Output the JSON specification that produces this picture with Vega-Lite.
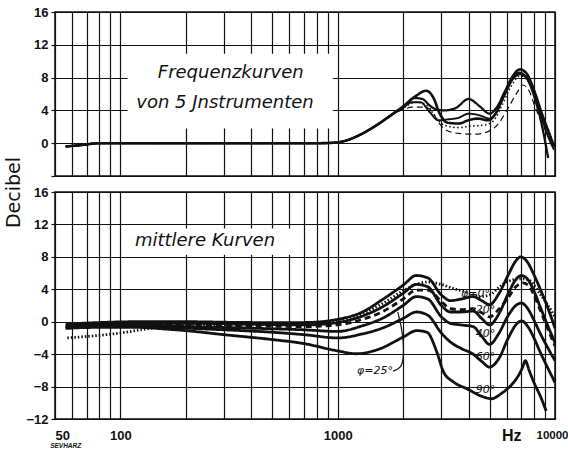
{
 "$schema": "https://vega.github.io/schema/vega-lite/v6.json",
 "background": "white",
 "padding": {"left": 4, "top": 5, "right": 2, "bottom": 2},
 "spacing": 16,
 "bounds": "flush",
 "resolve": {"scale": {"strokeDash": "independent", "strokeWidth": "independent"}},
 "config": {
  "view": {"stroke": "#111", "strokeWidth": 1.5},
  "axis": {"gridColor": "#111", "gridOpacity": 1, "gridWidth": 1.2, "domain": false, "labelFont": "Liberation Sans", "labelFontWeight": "bold", "labelFontSize": 13, "labelColor": "#111", "tickColor": "#111", "tickWidth": 1.2, "titleColor": "#111"}
 },
 "datasets": {
  "top": [
   {"s":"A","f":56,"db":-0.4},{"s":"A","f":65,"db":-0.25},{"s":"A","f":80,"db":0},{"s":"A","f":120,"db":0},{"s":"A","f":250,"db":0},{"s":"A","f":500,"db":0},{"s":"A","f":800,"db":0},{"s":"A","f":950,"db":0.05},{"s":"A","f":1100,"db":0.35},{"s":"A","f":1260,"db":1.0},{"s":"A","f":1510,"db":2.2},{"s":"A","f":1800,"db":3.6},
   {"s":"A","f":2000,"db":4.5},{"s":"A","f":2300,"db":5.8},{"s":"A","f":2550,"db":6.4},{"s":"A","f":2750,"db":5.6},{"s":"A","f":2950,"db":3.6},{"s":"A","f":3200,"db":2.5},{"s":"A","f":3600,"db":2.4},{"s":"A","f":4000,"db":2.8},{"s":"A","f":4400,"db":3.0},{"s":"A","f":4900,"db":2.8},{"s":"A","f":5300,"db":3.5},{"s":"A","f":5800,"db":5.8},{"s":"A","f":6400,"db":8.2},{"s":"A","f":6900,"db":9.0},{"s":"A","f":7400,"db":8.5},{"s":"A","f":8000,"db":6.5},{"s":"A","f":8700,"db":3.6},{"s":"A","f":9400,"db":1.2},{"s":"A","f":9900,"db":-0.4},
   {"s":"B","f":56,"db":-0.4},{"s":"B","f":65,"db":-0.25},{"s":"B","f":80,"db":0},{"s":"B","f":120,"db":0},{"s":"B","f":250,"db":0},{"s":"B","f":500,"db":0},{"s":"B","f":800,"db":0},{"s":"B","f":950,"db":0.05},{"s":"B","f":1100,"db":0.35},{"s":"B","f":1260,"db":1.0},{"s":"B","f":1510,"db":2.2},{"s":"B","f":1800,"db":3.6},
   {"s":"B","f":2000,"db":4.4},{"s":"B","f":2250,"db":5.5},{"s":"B","f":2450,"db":5.4},{"s":"B","f":2650,"db":4.6},{"s":"B","f":2850,"db":4.1},{"s":"B","f":3100,"db":4.0},{"s":"B","f":3500,"db":4.3},{"s":"B","f":4000,"db":5.4},{"s":"B","f":4500,"db":4.5},{"s":"B","f":5000,"db":3.6},{"s":"B","f":5400,"db":4.4},{"s":"B","f":5900,"db":6.4},{"s":"B","f":6400,"db":8.0},{"s":"B","f":6850,"db":8.6},{"s":"B","f":7400,"db":8.0},{"s":"B","f":8000,"db":5.8},{"s":"B","f":8600,"db":2.8},{"s":"B","f":9300,"db":-1.8},
   {"s":"C","f":56,"db":-0.4},{"s":"C","f":65,"db":-0.25},{"s":"C","f":80,"db":0},{"s":"C","f":120,"db":0},{"s":"C","f":250,"db":0},{"s":"C","f":500,"db":0},{"s":"C","f":800,"db":0},{"s":"C","f":950,"db":0.05},{"s":"C","f":1100,"db":0.35},{"s":"C","f":1260,"db":1.0},{"s":"C","f":1510,"db":2.2},{"s":"C","f":1800,"db":3.6},
   {"s":"C","f":2000,"db":4.3},{"s":"C","f":2200,"db":5.0},{"s":"C","f":2400,"db":5.0},{"s":"C","f":2650,"db":3.8},{"s":"C","f":2900,"db":2.8},{"s":"C","f":3200,"db":2.9},{"s":"C","f":3600,"db":3.1},{"s":"C","f":4000,"db":3.6},{"s":"C","f":4500,"db":3.4},{"s":"C","f":5000,"db":3.0},{"s":"C","f":5400,"db":3.9},{"s":"C","f":5900,"db":6.0},{"s":"C","f":6400,"db":7.8},{"s":"C","f":6900,"db":8.4},{"s":"C","f":7400,"db":7.9},{"s":"C","f":8000,"db":6.0},{"s":"C","f":8700,"db":3.0},{"s":"C","f":9400,"db":0.5},{"s":"C","f":9900,"db":-0.8},
   {"s":"D","f":56,"db":-0.4},{"s":"D","f":65,"db":-0.25},{"s":"D","f":80,"db":0},{"s":"D","f":120,"db":0},{"s":"D","f":250,"db":0},{"s":"D","f":500,"db":0},{"s":"D","f":800,"db":0},{"s":"D","f":950,"db":0.05},{"s":"D","f":1100,"db":0.35},{"s":"D","f":1260,"db":1.0},{"s":"D","f":1510,"db":2.2},{"s":"D","f":1800,"db":3.6},
   {"s":"D","f":2000,"db":4.3},{"s":"D","f":2300,"db":5.0},{"s":"D","f":2600,"db":4.5},{"s":"D","f":2850,"db":3.0},{"s":"D","f":3100,"db":2.2},{"s":"D","f":3600,"db":1.9},{"s":"D","f":4200,"db":2.1},{"s":"D","f":4700,"db":2.2},{"s":"D","f":5200,"db":2.7},{"s":"D","f":5700,"db":4.6},{"s":"D","f":6300,"db":7.0},{"s":"D","f":6900,"db":8.2},{"s":"D","f":7500,"db":7.6},{"s":"D","f":8200,"db":5.4},{"s":"D","f":9000,"db":2.6},{"s":"D","f":9900,"db":-0.2},
   {"s":"E","f":56,"db":-0.4},{"s":"E","f":65,"db":-0.25},{"s":"E","f":80,"db":0},{"s":"E","f":120,"db":0},{"s":"E","f":250,"db":0},{"s":"E","f":500,"db":0},{"s":"E","f":800,"db":0},{"s":"E","f":950,"db":0.05},{"s":"E","f":1100,"db":0.35},{"s":"E","f":1260,"db":1.0},{"s":"E","f":1510,"db":2.2},{"s":"E","f":1800,"db":3.6},
   {"s":"E","f":2000,"db":4.1},{"s":"E","f":2200,"db":4.4},{"s":"E","f":2500,"db":4.4},{"s":"E","f":2700,"db":4.0},{"s":"E","f":2900,"db":2.6},{"s":"E","f":3150,"db":1.6},{"s":"E","f":3600,"db":1.2},{"s":"E","f":4300,"db":1.1},{"s":"E","f":5000,"db":1.5},{"s":"E","f":5500,"db":2.4},{"s":"E","f":6000,"db":4.0},{"s":"E","f":6700,"db":6.2},{"s":"E","f":7100,"db":7.1},{"s":"E","f":7600,"db":6.4},{"s":"E","f":8000,"db":4.8},{"s":"E","f":8600,"db":2.8},{"s":"E","f":9250,"db":1.0},{"s":"E","f":9900,"db":-0.45}
  ],
  "bottom": [
   {"s":"p0","f":56,"db":-0.3},{"s":"p0","f":80,"db":-0.1},{"s":"p0","f":120,"db":0},{"s":"p0","f":200,"db":0},{"s":"p0","f":400,"db":-0.1},{"s":"p0","f":700,"db":-0.1},{"s":"p0","f":1000,"db":0.3},{"s":"p0","f":1300,"db":1.2},{"s":"p0","f":1600,"db":2.7},{"s":"p0","f":2000,"db":4.5},{"s":"p0","f":2300,"db":5.7},{"s":"p0","f":2600,"db":5.4},{"s":"p0","f":3000,"db":3.3},{"s":"p0","f":3300,"db":2.6},{"s":"p0","f":3700,"db":2.8},{"s":"p0","f":4200,"db":3.1},{"s":"p0","f":4600,"db":2.6},{"s":"p0","f":5000,"db":2.1},{"s":"p0","f":5500,"db":3.4},{"s":"p0","f":6100,"db":5.8},{"s":"p0","f":6600,"db":7.5},{"s":"p0","f":6950,"db":8.0},{"s":"p0","f":7400,"db":7.5},{"s":"p0","f":8000,"db":5.8},{"s":"p0","f":8500,"db":4.2},{"s":"p0","f":9300,"db":1.6},{"s":"p0","f":10000,"db":-0.8},
   {"s":"p20","f":56,"db":-0.5},{"s":"p20","f":80,"db":-0.3},{"s":"p20","f":120,"db":-0.2},{"s":"p20","f":200,"db":-0.2},{"s":"p20","f":400,"db":-0.3},{"s":"p20","f":700,"db":-0.4},{"s":"p20","f":1000,"db":-0.1},{"s":"p20","f":1300,"db":0.7},{"s":"p20","f":1600,"db":1.8},{"s":"p20","f":2000,"db":3.5},{"s":"p20","f":2300,"db":4.6},{"s":"p20","f":2600,"db":4.3},{"s":"p20","f":3000,"db":2.0},{"s":"p20","f":3300,"db":1.2},{"s":"p20","f":3700,"db":1.2},{"s":"p20","f":4200,"db":1.3},{"s":"p20","f":4600,"db":0.4},{"s":"p20","f":5000,"db":-0.4},{"s":"p20","f":5500,"db":0.9},{"s":"p20","f":6100,"db":3.5},{"s":"p20","f":6600,"db":5.2},{"s":"p20","f":7000,"db":5.7},{"s":"p20","f":7500,"db":5.2},{"s":"p20","f":8000,"db":3.8},{"s":"p20","f":8500,"db":2.0},{"s":"p20","f":9300,"db":-0.6},{"s":"p20","f":10000,"db":-2.6},
   {"s":"p25","f":56,"db":-0.6},{"s":"p25","f":80,"db":-0.4},{"s":"p25","f":120,"db":-0.3},{"s":"p25","f":200,"db":-0.4},{"s":"p25","f":400,"db":-0.5},{"s":"p25","f":700,"db":-0.6},{"s":"p25","f":1000,"db":-0.4},{"s":"p25","f":1300,"db":0.3},{"s":"p25","f":1600,"db":1.2},{"s":"p25","f":2000,"db":2.8},{"s":"p25","f":2300,"db":3.9},{"s":"p25","f":2600,"db":3.9},{"s":"p25","f":3000,"db":2.5},{"s":"p25","f":3300,"db":1.6},{"s":"p25","f":3700,"db":1.5},{"s":"p25","f":4200,"db":1.6},{"s":"p25","f":4600,"db":1.1},{"s":"p25","f":5000,"db":0.6},{"s":"p25","f":5500,"db":1.5},{"s":"p25","f":6100,"db":3.0},{"s":"p25","f":6600,"db":4.3},{"s":"p25","f":7100,"db":4.8},{"s":"p25","f":7600,"db":4.4},{"s":"p25","f":8000,"db":3.3},{"s":"p25","f":8500,"db":1.6},{"s":"p25","f":9300,"db":-1.0},{"s":"p25","f":10000,"db":-3.0},
   {"s":"p40","f":56,"db":-0.7},{"s":"p40","f":80,"db":-0.5},{"s":"p40","f":120,"db":-0.4},{"s":"p40","f":200,"db":-0.6},{"s":"p40","f":400,"db":-0.8},{"s":"p40","f":700,"db":-1.0},{"s":"p40","f":1000,"db":-1.2},{"s":"p40","f":1300,"db":-0.5},{"s":"p40","f":1600,"db":0.4},{"s":"p40","f":2000,"db":2.0},{"s":"p40","f":2300,"db":3.1},{"s":"p40","f":2600,"db":2.8},{"s":"p40","f":3000,"db":0.6},{"s":"p40","f":3300,"db":-0.2},{"s":"p40","f":3700,"db":-0.4},{"s":"p40","f":4200,"db":-0.6},{"s":"p40","f":4600,"db":-1.8},{"s":"p40","f":5000,"db":-2.8},{"s":"p40","f":5500,"db":-1.5},{"s":"p40","f":6100,"db":0.8},{"s":"p40","f":6600,"db":2.0},{"s":"p40","f":7000,"db":2.3},{"s":"p40","f":7500,"db":1.6},{"s":"p40","f":8000,"db":0.2},{"s":"p40","f":8500,"db":-1.3},{"s":"p40","f":9300,"db":-3.3},{"s":"p40","f":10000,"db":-4.8},
   {"s":"p60","f":56,"db":-0.8},{"s":"p60","f":80,"db":-0.6},{"s":"p60","f":120,"db":-0.6},{"s":"p60","f":200,"db":-0.8},{"s":"p60","f":300,"db":-1.0},{"s":"p60","f":500,"db":-1.3},{"s":"p60","f":700,"db":-1.6},{"s":"p60","f":1000,"db":-2.0},{"s":"p60","f":1300,"db":-1.5},{"s":"p60","f":1600,"db":-0.8},{"s":"p60","f":2000,"db":0.4},{"s":"p60","f":2300,"db":1.2},{"s":"p60","f":2600,"db":0.8},{"s":"p60","f":3000,"db":-1.4},{"s":"p60","f":3300,"db":-2.5},{"s":"p60","f":3700,"db":-3.3},{"s":"p60","f":4200,"db":-4.0},{"s":"p60","f":4600,"db":-4.9},{"s":"p60","f":5000,"db":-5.6},{"s":"p60","f":5500,"db":-4.6},{"s":"p60","f":6100,"db":-2.0},{"s":"p60","f":6600,"db":-0.4},{"s":"p60","f":7000,"db":0.1},{"s":"p60","f":7500,"db":-0.6},{"s":"p60","f":8000,"db":-2.0},{"s":"p60","f":8500,"db":-3.6},{"s":"p60","f":9300,"db":-5.8},{"s":"p60","f":10000,"db":-7.5},
   {"s":"p90","f":56,"db":-0.8},{"s":"p90","f":80,"db":-0.7},{"s":"p90","f":120,"db":-0.7},{"s":"p90","f":160,"db":-0.9},{"s":"p90","f":200,"db":-1.1},{"s":"p90","f":300,"db":-1.6},{"s":"p90","f":500,"db":-2.2},{"s":"p90","f":700,"db":-2.7},{"s":"p90","f":1000,"db":-3.6},{"s":"p90","f":1220,"db":-3.95},{"s":"p90","f":1560,"db":-3.35},{"s":"p90","f":2000,"db":-1.9},{"s":"p90","f":2310,"db":-1.1},{"s":"p90","f":2575,"db":-1.3},{"s":"p90","f":2860,"db":-3.75},{"s":"p90","f":3070,"db":-6.2},{"s":"p90","f":3420,"db":-7.45},{"s":"p90","f":3950,"db":-8.3},{"s":"p90","f":4600,"db":-9.2},{"s":"p90","f":5100,"db":-9.5},{"s":"p90","f":5700,"db":-8.8},{"s":"p90","f":6300,"db":-7.8},{"s":"p90","f":6800,"db":-6.6},{"s":"p90","f":7100,"db":-5.6},{"s":"p90","f":7300,"db":-4.8},{"s":"p90","f":7600,"db":-6.0},{"s":"p90","f":8000,"db":-7.5},{"s":"p90","f":8600,"db":-9.3},{"s":"p90","f":9100,"db":-11.0},
   {"s":"dot","f":57,"db":-2.0},{"s":"dot","f":93,"db":-1.5},{"s":"dot","f":154,"db":-0.66},{"s":"dot","f":250,"db":-0.4},{"s":"dot","f":500,"db":-0.3},{"s":"dot","f":800,"db":-0.2},{"s":"dot","f":1000,"db":0.1},{"s":"dot","f":1300,"db":1.0},{"s":"dot","f":1600,"db":2.2},{"s":"dot","f":2000,"db":3.8},{"s":"dot","f":2300,"db":4.6},{"s":"dot","f":2600,"db":4.9},{"s":"dot","f":3000,"db":4.6},{"s":"dot","f":3400,"db":4.1},{"s":"dot","f":4000,"db":3.6},{"s":"dot","f":4500,"db":3.1},{"s":"dot","f":5000,"db":3.3},{"s":"dot","f":5500,"db":4.2},{"s":"dot","f":6000,"db":4.9},{"s":"dot","f":7000,"db":5.3},{"s":"dot","f":7500,"db":5.2},{"s":"dot","f":8500,"db":3.5},{"s":"dot","f":9300,"db":2.0},{"s":"dot","f":10000,"db":0.6}
  ],
  "boxTop": [{"f":108,"f2":950,"db":1.8,"db2":10.9}],
  "boxBottom": [{"f":109,"f2":640,"db":8.25,"db2":11.5}],
  "titleTop": [{"f":322,"db":8.6,"t":"Frequenzkurven"},{"f":303,"db":4.85,"t":"von 5 Jnstrumenten"}],
  "titleBottom": [{"f":245,"db":9.9,"t":"mittlere Kurven"}],
  "angles": [{"f":4310,"db":3.46,"t":"φ=0°"},{"f":4790,"db":1.48,"t":"20°"},{"f":4790,"db":-1.48,"t":"40°"},{"f":4790,"db":-4.33,"t":"60°"},{"f":4790,"db":-8.4,"t":"90°"},{"f":1483,"db":-6.06,"t":"φ=25°"}],
  "leader": [{"o":1,"f":1800,"db":-6.1},{"o":2,"f":1960,"db":-5.7},{"o":3,"f":2010,"db":-4.5},{"o":4,"f":2010,"db":-2.5},{"o":5,"f":1960,"db":-0.5},{"o":6,"f":1890,"db":1.2}],
  "hz": [{"f":6320,"db":-14.1,"t":"Hz"}],
  "stamp": [{"f":56,"db":-15.3,"t":"SEVHARZ"}]
 },
 "vconcat": [
  {
   "width": 500, "height": 164,
   "encoding": {
    "x": {"field": "f", "type": "quantitative", "scale": {"type": "log", "domain": [50, 10000], "nice": false},
          "axis": {"values": [50,60,70,80,90,100,200,300,400,500,600,700,800,900,1000,2000,3000,4000,5000,6000,7000,8000,9000,10000], "labels": false, "ticks": false, "title": null, "grid": true}},
    "y": {"field": "db", "type": "quantitative", "scale": {"domain": [-4, 16], "nice": false, "zero": false},
          "axis": {"values": [-4,0,4,8,12,16], "labelExpr": "datum.value < 0 ? '' : datum.label", "tickSize": 4, "labelPadding": 3, "title": null, "grid": true}}
   },
   "layer": [
    {"data": {"name": "boxTop"}, "mark": {"type": "rect", "color": "white"}, "encoding": {"x2": {"field": "f2"}, "y2": {"field": "db2"}}},
    {"data": {"name": "top"}, "mark": {"type": "line", "interpolate": "monotone", "color": "#111"},
     "encoding": {
      "strokeDash": {"field": "s", "type": "nominal", "scale": {"domain": ["A","B","C","D","E"], "range": [[1,0],[1,0],[1,0],[1.5,2.5],[6,4]]}, "legend": null},
      "strokeWidth": {"field": "s", "type": "nominal", "scale": {"domain": ["A","B","C","D","E"], "range": [2.6,1.2,1.2,1.4,1.8]}, "legend": null}
     }},
    {"data": {"name": "titleTop"}, "mark": {"type": "text", "font": "DejaVu Sans", "fontStyle": "italic", "fontSize": 18, "color": "#111"}, "encoding": {"text": {"field": "t"}}}
   ]
  },
  {
   "width": 500, "height": 227,
   "encoding": {
    "x": {"field": "f", "type": "quantitative", "scale": {"type": "log", "domain": [50, 10000], "nice": false},
          "axis": {"values": [50,60,70,80,90,100,200,300,400,500,600,700,800,900,1000,2000,3000,4000,5000,6000,7000,8000,9000,10000],
                   "labelExpr": "(datum.value == 50 || datum.value == 100 || datum.value == 1000 || datum.value == 10000) ? '' + datum.value : ''",
                   "labelAlign": {"condition": [{"test": "datum.value == 50", "value": "left"}, {"test": "datum.value == 10000", "value": "right"}], "value": "center"},
                   "labelOffset": {"condition": {"test": "datum.value == 10000", "value": 13}, "value": 0},
                   "labelFontSize": {"condition": {"test": "datum.value == 10000", "value": 11.5}, "value": 13},
                   "labelOverlap": false, "labelFlush": false, "ticks": false, "labelPadding": 10, "title": null, "grid": true}},
    "y": {"field": "db", "type": "quantitative", "scale": {"domain": [-12, 16], "nice": false, "zero": false},
          "axis": {"values": [-12,-8,-4,0,4,8,12,16], "tickSize": 4, "labelPadding": 3, "grid": true,
                   "title": "Decibel", "titleFont": "DejaVu Sans", "titleFontSize": 19, "titleFontWeight": "normal", "titleAnchor": "end", "titleAlign": "center", "titlePadding": 2}}
   },
   "layer": [
    {"data": {"name": "boxBottom"}, "mark": {"type": "rect", "color": "white"}, "encoding": {"x2": {"field": "f2"}, "y2": {"field": "db2"}}},
    {"data": {"name": "bottom"}, "mark": {"type": "line", "interpolate": "monotone", "color": "#111"},
     "encoding": {
      "strokeDash": {"field": "s", "type": "nominal", "scale": {"domain": ["p0","p20","p25","p40","p60","p90","dot"], "range": [[1,0],[1,0],[6,4],[1,0],[1,0],[1,0],[1.5,2]]}, "legend": null},
      "strokeWidth": {"field": "s", "type": "nominal", "scale": {"domain": ["p0","p20","p25","p40","p60","p90","dot"], "range": [2.8,2.8,1.6,2.8,2.8,2.8,1.0]}, "legend": null}
     }},
    {"data": {"name": "leader"}, "mark": {"type": "line", "interpolate": "basis", "color": "#111", "strokeWidth": 1.2}, "encoding": {"order": {"field": "o", "type": "quantitative"}}},
    {"data": {"name": "titleBottom"}, "mark": {"type": "text", "font": "DejaVu Sans", "fontStyle": "italic", "fontSize": 18, "color": "#111"}, "encoding": {"text": {"field": "t"}}},
    {"data": {"name": "angles"}, "mark": {"type": "text", "font": "DejaVu Sans", "fontStyle": "italic", "fontSize": 11, "color": "#111"}, "encoding": {"text": {"field": "t"}}},
    {"data": {"name": "hz"}, "mark": {"type": "text", "font": "Liberation Sans", "fontWeight": "bold", "fontSize": 16, "color": "#111"}, "encoding": {"text": {"field": "t"}}},
    {"data": {"name": "stamp"}, "mark": {"type": "text", "font": "Liberation Sans", "fontWeight": "bold", "fontStyle": "italic", "fontSize": 6.5, "color": "#111"}, "encoding": {"text": {"field": "t"}}}
   ]
  }
 ]
}
